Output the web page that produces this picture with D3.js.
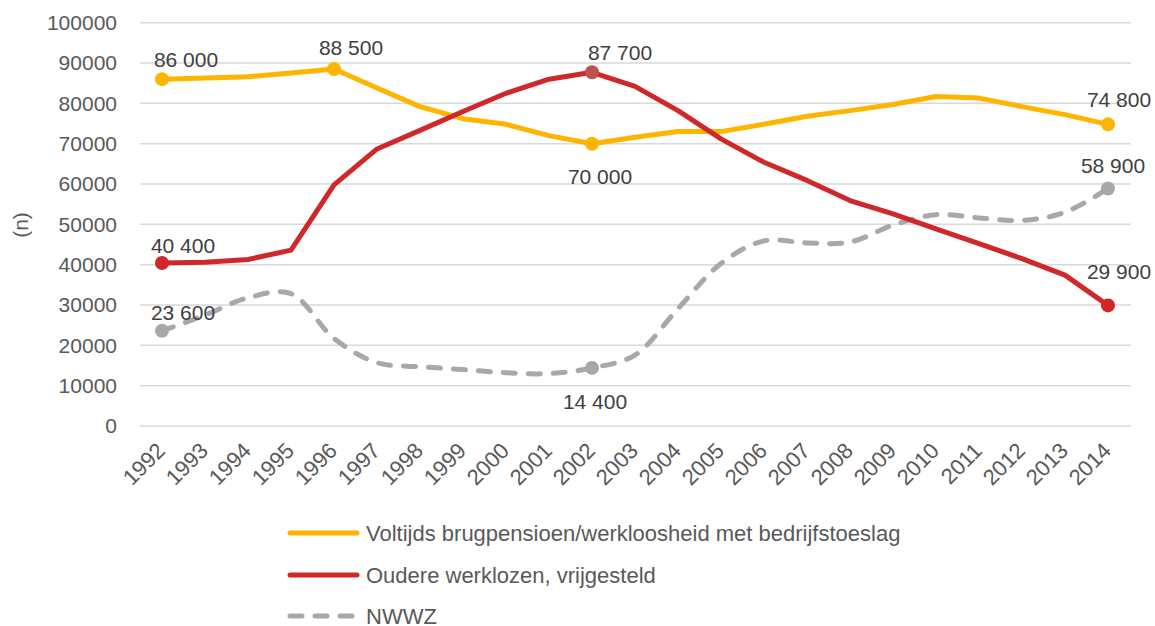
<!DOCTYPE html>
<html>
<head>
<meta charset="utf-8">
<script src="https://cdn.jsdelivr.net/npm/d3@7"></script>
<style>
  body { margin: 0; background: #fff; }
  svg { display: block; font-family: "Liberation Sans", Arial, sans-serif; }
</style>
</head>
<body>
<div id="chart"></div>
<script>
const years = d3.range(1992, 2015)

const voltijds = [86000, 86300, 86600, 87500, 88500, 83800, 79200, 76200, 74800, 72000, 70000,
                  71600, 73000, 73000, 74800, 76800, 78200, 79700, 81700, 81300, 79200, 77200, 74800]
const oudere = [40400, 40600, 41300, 43600, 59800, 68700, 73300, 78000, 82500, 86000, 87700,
                84200, 78200, 71200, 65400, 60900, 55900, 52600, 48900, 45200, 41500, 37400, 29900]
const nwwz = [23600, 27500, 31800, 32800, 21700, 15700, 14700, 14000, 13200, 13000, 14400,
              17600, 29100, 40300, 45900, 45400, 45600, 49800, 52400, 51600, 51000, 53000, 58900]

const yTicks = d3.range(0, 100001, 10000)

const seriesNames = ["Voltijds brugpensioen/werkloosheid met bedrijfstoeslag",
                     "Oudere werklozen, vrijgesteld",
                     "NWWZ"]

// which points get a marker + label
const labelled = [
  {s: 0, year: 1992}, {s: 0, year: 1996}, {s: 0, year: 2002}, {s: 0, year: 2014},
  {s: 1, year: 1992}, {s: 1, year: 2002}, {s: 1, year: 2014},
  {s: 2, year: 1992}, {s: 2, year: 2002}, {s: 2, year: 2014}
]
// label offsets (dx, dy) from the marker, same order as labelled
const labelOffsets = [[24, -12], [17, -14], [8, 40], [11, -17],
                      [21, -10], [28, -12], [11, -26],
                      [21, -11], [3, 41], [5, -15]]

const width = 1155
const height = 626

const colors = ["#FFB400", "#D0282A", "#A6A8AB"]

const svg = d3.select("#chart").append("svg")
  .attr("width", width)
  .attr("height", height)
  .attr("viewBox", [0, 0, width, height])

const x = d3.scalePoint().domain(years).range([162, 1108])
const y = d3.scaleLinear().domain([0, 100000]).range([426, 22.7])

// gridlines
svg.append("g")
  .selectAll("line")
  .data(yTicks)
  .join("line")
    .attr("x1", 140)
    .attr("x2", 1131)
    .attr("y1", d => y(d))
    .attr("y2", d => y(d))
    .attr("stroke", "#D9D9D9")
    .attr("stroke-width", 1.5)

// y axis
svg.append("g")
  .attr("transform", "translate(126,0)")
  .call(d3.axisLeft(y).tickValues(yTicks).tickSize(0).tickPadding(0).tickFormat(d3.format("d")))
  .call(g => g.select(".domain").remove())
  .call(g => g.selectAll("text")
    .attr("font-size", 21)
    .attr("font-family", "Liberation Sans, Arial, sans-serif")
    .attr("fill", "#595959")
    .attr("dx", -9))

svg.append("text")
  .attr("transform", "translate(28,225) rotate(-90)")
  .attr("text-anchor", "middle")
  .attr("font-size", 21)
  .attr("fill", "#595959")
  .text("(n)")

// x axis
svg.append("g")
  .attr("transform", "translate(0,426)")
  .call(d3.axisBottom(x).tickSize(0).tickPadding(0))
  .call(g => g.select(".domain").remove())
  .call(g => g.selectAll("text")
    .attr("font-size", 22)
    .attr("font-family", "Liberation Sans, Arial, sans-serif")
    .attr("fill", "#595959")
    .attr("text-anchor", "end")
    .attr("dy", 0)
    .attr("transform", "translate(4,26) rotate(-45)"))

const series = [voltijds, oudere, nwwz]

const straight = d3.line()
  .x((d, i) => x(years[i]))
  .y(d => y(d))
const smooth = d3.line()
  .x((d, i) => x(years[i]))
  .y(d => y(d))
  .curve(d3.curveCatmullRom.alpha(0.5))

svg.append("path")
  .attr("d", smooth(nwwz))
  .attr("fill", "none")
  .attr("stroke", colors[2])
  .attr("stroke-width", 5)
  .attr("stroke-dasharray", "12,13")
  .attr("stroke-linecap", "round")

svg.append("path")
  .attr("d", straight(voltijds))
  .attr("fill", "none")
  .attr("stroke", colors[0])
  .attr("stroke-width", 5)
  .attr("stroke-linejoin", "round")

svg.append("path")
  .attr("d", straight(oudere))
  .attr("fill", "none")
  .attr("stroke", colors[1])
  .attr("stroke-width", 5)
  .attr("stroke-linejoin", "round")

// markers
const fmt = d3.formatLocale({decimal: ",", thousands: " ", grouping: [3], currency: ["", ""]}).format(",d")

svg.append("g")
  .selectAll("circle")
  .data(labelled)
  .join("circle")
    .attr("cx", d => x(d.year))
    .attr("cy", d => y(series[d.s][d.year - 1992]))
    .attr("r", 7)
    .attr("fill", d => (d.s === 1 && d.year === 2002) ? "#C0504D" : colors[d.s])

svg.append("g")
  .selectAll("text")
  .data(labelled)
  .join("text")
    .attr("x", (d, i) => x(d.year) + labelOffsets[i][0])
    .attr("y", (d, i) => y(series[d.s][d.year - 1992]) + labelOffsets[i][1])
    .attr("text-anchor", "middle")
    .attr("font-size", 21)
    .attr("fill", "#404040")
    .text(d => fmt(series[d.s][d.year - 1992]))

// legend
const legendY = [533, 575, 616]
const legend = svg.append("g")
legend.selectAll("line")
  .data(seriesNames)
  .join("line")
    .attr("x1", 290)
    .attr("x2", 357)
    .attr("y1", (d, i) => legendY[i])
    .attr("y2", (d, i) => legendY[i])
    .attr("stroke", (d, i) => colors[i])
    .attr("stroke-width", 5)
    .attr("stroke-linecap", "round")
    .attr("stroke-dasharray", (d, i) => i === 2 ? "12,13" : null)
legend.selectAll("text")
  .data(seriesNames)
  .join("text")
    .attr("x", 366)
    .attr("y", (d, i) => legendY[i])
    .attr("dy", "0.35em")
    .attr("font-size", 22)
    .attr("fill", "#595959")
    .text(d => d)
</script>
</body>
</html>
